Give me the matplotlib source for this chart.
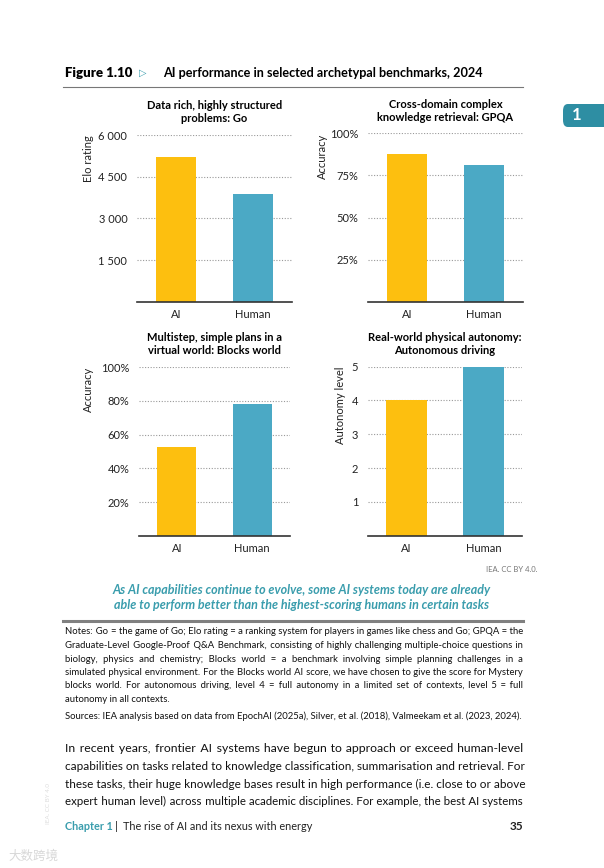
import matplotlib
matplotlib.use('Agg')
import matplotlib.pyplot as plt
from matplotlib.lines import Line2D
from matplotlib.patches import FancyBboxPatch
from matplotlib.ticker import FuncFormatter
from matplotlib.font_manager import FontProperties

W, H = 604, 868

# ---- data ----
groups = ['AI', 'Human']
go_elo = [5200, 3860]
gpqa_acc = [0.877, 0.812]
blocks_acc = [0.525, 0.78]
driving_level = [4, 5]

go_ticks = [1500, 3000, 4500, 6000]
gpqa_ticks = [0.25, 0.50, 0.75, 1.00]
blocks_ticks = [0.2, 0.4, 0.6, 0.8, 1.0]
driving_ticks = [1, 2, 3, 4, 5]

titles = ['Data rich, highly structured\nproblems: Go',
          'Cross-domain complex\nknowledge retrieval: GPQA',
          'Multistep, simple plans in a\nvirtual world: Blocks world',
          'Real-world physical autonomy:\nAutonomous driving']
ylabels = ['Elo rating', 'Accuracy', 'Accuracy', 'Autonomy level']

notes = [
    "Notes: Go = the game of Go; Elo rating = a ranking system for players in games like chess and Go; GPQA = the",
    "Graduate-Level Google-Proof Q&A Benchmark, consisting of highly challenging multiple-choice questions in",
    "biology, physics and chemistry; Blocks world = a benchmark involving simple planning challenges in a",
    "simulated physical environment. For the Blocks world AI score, we have chosen to give the score for Mystery",
    "blocks world. For autonomous driving, level 4 = full autonomy in a limited set of contexts, level 5 = full",
]
notes_last = "autonomy in all contexts."
sources = "Sources: IEA analysis based on data from EpochAI (2025a), Silver, et al. (2018), Valmeekam et al. (2023, 2024)."
body = [
    "In recent years, frontier AI systems have begun to approach or exceed human-level",
    "capabilities on tasks related to knowledge classification, summarisation and retrieval. For",
    "these tasks, their huge knowledge bases result in high performance (i.e. close to or above",
    "expert human level) across multiple academic disciplines. For example, the best AI systems",
]

AI_COL = '#FDBF0F'
HUM_COL = '#4BA9C5'
TEAL = '#3A9DAD'
FONT = 'Lato'
FAMILY = [FONT, 'DejaVu Sans']

plt.rcParams['font.family'] = FAMILY

fig = plt.figure(figsize=(W / 100, H / 100), dpi=100)
renderer = fig.canvas.get_renderer()


def fy(y):
    return 1 - y / H


def hline(x0, x1, y, color, lw):
    fig.add_artist(Line2D([x0 / W, x1 / W], [fy(y), fy(y)], color=color, lw=lw,
                          transform=fig.transFigure))


def text_w(s, prop):
    return renderer.get_text_width_height_descent(s, prop, ismath=False)[0]


def padded(words, n):
    gaps = len(words) - 1
    out = words[0]
    for k in range(gaps):
        pad = n // gaps + (1 if k < n % gaps else 0)
        out += ' ' + '\u200a' * pad + words[k + 1]
    return out


def put_line(y, line, size, x0=65, x1=523, **kw):
    # justify one line by padding the word gaps with hair spaces (single text -> one baseline)
    target = x1 - x0
    prop = FontProperties(family=FAMILY, size=size)
    natural = text_w(line, prop)
    if natural > target:
        # too long already: shrink the font a touch instead
        prop = FontProperties(family=FAMILY, size=size * target / natural)
    words = line.split(' ')
    wh = (text_w('a' + '\u200a' * 20 + 'a', prop) - text_w('aa', prop)) / 20
    n = 0
    if wh > 0:
        for _ in range(6):
            diff = target - text_w(padded(words, n), prop)
            n = max(0, n + int(round(diff / wh)))
    fig.text(x0 / W, fy(y), padded(words, n), fontproperties=prop, va='center', ha='left', **kw)


# ---- heading ----
fig.text(65 / W, fy(73), 'Figure 1.10', fontsize=9.5, fontweight='heavy', va='center')
fig.text(139 / W, fy(73), '\u25B7', fontsize=7, color=TEAL, va='center', family='DejaVu Sans')
fig.text(163 / W, fy(73), 'AI performance in selected archetypal benchmarks, 2024',
         fontsize=9.1, fontweight='bold', va='center')
hline(63, 523, 87, '#777777', 0.8)

# chapter tab
fig.add_artist(FancyBboxPatch((563 / W, fy(127)), 60 / W, 23 / H,
                              boxstyle='round,pad=0,rounding_size=0.008',
                              transform=fig.transFigure, fc='#2E8EA3', ec='none'))
fig.text(577 / W, fy(115.5), '1', fontsize=12, fontweight='bold', color='white',
         va='center', ha='center')

# ---- four panels ----
boxes = [(137, 292, 135, 301.7), (368, 523, 133.3, 301.7),
         (139, 290, 367, 536), (368, 522, 366.7, 535.7)]
values = [go_elo, gpqa_acc, blocks_acc, driving_level]
ticks = [go_ticks, gpqa_ticks, blocks_ticks, driving_ticks]
fmts = [lambda v, p: f"{int(round(v)):,}".replace(',', ' '),
        lambda v, p: f"{v * 100:.0f}%",
        lambda v, p: f"{v * 100:.0f}%",
        lambda v, p: f"{v:.0f}"]
label_x = [88, 322, 88, 340]

for i in range(4):
    x0, x1, y0, y1 = boxes[i]
    ax = fig.add_axes([x0 / W, fy(y1), (x1 - x0) / W, (y1 - y0) / H])
    ax.bar(range(len(groups)), values[i], width=0.52, color=[AI_COL, HUM_COL], zorder=2)
    ax.set_xlim(-0.5, 1.5)
    ax.set_ylim(0, ticks[i][-1])
    ax.set_yticks(ticks[i])
    ax.yaxis.set_major_formatter(FuncFormatter(fmts[i]))
    ax.set_xticks(range(len(groups)))
    ax.set_xticklabels(groups)
    ax.tick_params(length=0, labelsize=8, colors='#222222')
    ax.tick_params(axis='y', pad=7)
    ax.tick_params(axis='x', pad=5)
    ax.grid(axis='y', ls=(0, (1, 1.5)), color='#999999', lw=0.8, zorder=0)
    for s in ['top', 'right', 'left']:
        ax.spines[s].set_visible(False)
    ax.spines['bottom'].set_color('#333333')
    ax.spines['bottom'].set_linewidth(1.2)
    ax.set_title(titles[i], fontsize=8, fontweight='bold', pad=9, linespacing=1.25)
    ax.text((label_x[i] - x0) / (x1 - x0), 1.0, ylabels[i], rotation=90, fontsize=8,
            ha='center', va='top', transform=ax.transAxes, color='#222222')

fig.text(537 / W, fy(569), 'IEA. CC BY 4.0.', fontsize=5.5, color='#777777',
         ha='right', va='center')

# ---- key message ----
fig.text(302 / W, fy(590), 'As AI capabilities continue to evolve, some AI systems today are already',
         fontsize=9, fontweight='bold', style='italic', color=TEAL, ha='center', va='center')
fig.text(302 / W, fy(605), 'able to perform better than the highest-scoring humans in certain tasks',
         fontsize=9, fontweight='bold', style='italic', color=TEAL, ha='center', va='center')
hline(63, 523, 621, '#808080', 2.2)

# ---- notes ----
note_y = [632, 645.5, 659, 672.5, 686]
for y, line in zip(note_y, notes):
    put_line(y, line, 6.85, color='#111111')
fig.text(65 / W, fy(699), notes_last, fontsize=6.85, va='center', color='#111111')
fig.text(65 / W, fy(716), sources, fontsize=6.8, va='center', color='#111111')

# ---- body text ----
body_y = [748.5, 766, 784, 801]
for y, line in zip(body_y, body):
    put_line(y, line, 8.8, color='#111111')

# ---- footer ----
fig.text(65 / W, fy(826), 'Chapter 1', fontsize=7.8, fontweight='bold', color=TEAL, va='center')
fig.text(115 / W, fy(826), '|', fontsize=8.5, color='#333333', va='center')
fig.text(123 / W, fy(826), 'The rise of AI and its nexus with energy', fontsize=7.8,
         color='#222222', va='center')
fig.text(523 / W, fy(826), '35', fontsize=8.5, fontweight='bold', color='#222222',
         va='center', ha='right')

# faint margin marks
fig.text(49 / W, fy(803), 'IEA. CC BY 4.0', fontsize=4.5, rotation=90, color='#dddddd',
         ha='center', va='center')
fig.text(8 / W, fy(856), '\u5927\u6570\u8de8\u5883', fontsize=9, color='#d8d8d8',
         va='center', family=['Noto Sans CJK SC', 'DejaVu Sans'])

fig.savefig('out.png', dpi=100)
